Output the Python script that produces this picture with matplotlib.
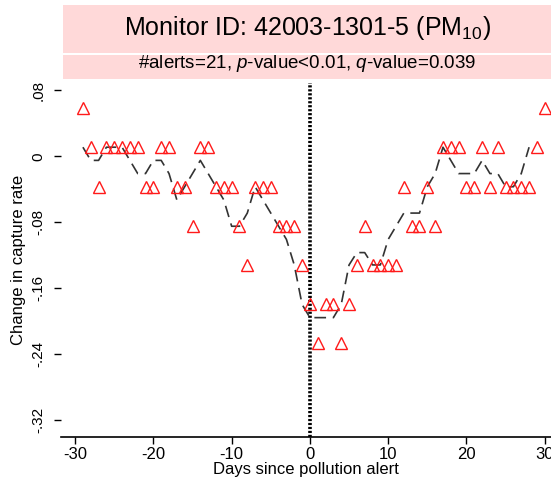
import numpy as np
import matplotlib
matplotlib.use("Agg")
import matplotlib.pyplot as plt
from matplotlib.patches import Rectangle

plt.rcParams['font.family'] = ['Liberation Sans', 'DejaVu Sans']
plt.rcParams['mathtext.fontset'] = 'custom'
plt.rcParams['mathtext.rm'] = 'Liberation Sans'
plt.rcParams['mathtext.it'] = 'Liberation Sans:italic'

# days relative to the alert
days = list(range(-29, 31))

# change in capture rate on each day (triangles)
change = [0.059, 0.011, -0.037, 0.011, 0.011, 0.011, 0.011, 0.011, -0.037, -0.037,
          0.011, 0.011, -0.037, -0.037, -0.085, 0.011, 0.011, -0.037, -0.037, -0.037,
          -0.085, -0.132, -0.037, -0.037, -0.037, -0.085, -0.085, -0.085, -0.132, -0.180,
          -0.227, -0.180, -0.180, -0.227, -0.180, -0.132, -0.085, -0.132, -0.132, -0.132,
          -0.132, -0.037, -0.085, -0.085, -0.037, -0.085, 0.011, 0.011, 0.011, -0.037,
          -0.037, 0.011, -0.037, 0.011, -0.037, -0.037, -0.037, -0.037, 0.011, 0.059]

# smoothed series (dashed line)
smooth_days = list(range(-29, 29))
smooth = [0.011, -0.005, -0.005, 0.011, 0.011, 0.011, -0.005, -0.021, -0.021, -0.005,
          -0.005, -0.021, -0.053, -0.037, -0.021, -0.005, -0.021, -0.037, -0.053, -0.085,
          -0.085, -0.069, -0.037, -0.053, -0.069, -0.085, -0.101, -0.132, -0.180, -0.196,
          -0.196, -0.196, -0.196, -0.180, -0.132, -0.117, -0.117, -0.132, -0.132, -0.101,
          -0.085, -0.069, -0.069, -0.069, -0.037, -0.021, 0.011, -0.005, -0.021, -0.021,
          -0.021, -0.005, -0.021, -0.021, -0.037, -0.037, -0.021, 0.011]

yticks = [0.08, 0, -0.08, -0.16, -0.24, -0.32]
ytick_labels = ['.08', '0', '-.08', '-.16', '-.24', '-.32']
xticks = [-30, -20, -10, 0, 10, 20, 30]

W, H = 551, 480
fig = plt.figure(figsize=(W / 100, H / 100), dpi=100)
ax = fig.add_axes([61 / W, 43 / H, 1 - 61 / W, (437 - 83) / H])

ax.axvline(0, color='black', lw=2.6, linestyle=(0, (0.6, 0.5)), zorder=1)
ax.plot(smooth_days, smooth, color='#333333', lw=1.2, linestyle=(0, (7, 4)), zorder=2)
ax.plot(days, change, linestyle='none', marker='^', markersize=8,
        markerfacecolor='none', markeredgecolor='#ff1a1a', markeredgewidth=1.0, zorder=3)

ax.set_xlim(-31.8, 30.8)
ax.set_ylim(-0.341, 0.089)
ax.set_xticks(xticks)
ax.set_xticklabels([str(t) for t in xticks], fontsize=12)
ax.set_yticks(yticks)
ax.set_yticklabels(ytick_labels, fontsize=11, rotation=90, va='center')
ax.tick_params(axis='both', length=5, width=1, color='black')
ax.tick_params(axis='x', pad=2)
ax.tick_params(axis='y', pad=6)
for s in ['top', 'right', 'left']:
    ax.spines[s].set_visible(False)
ax.spines['bottom'].set_linewidth(1.2)
ax.set_xlabel('Days since pollution alert', fontsize=12, labelpad=0)
ax.set_ylabel('Change in capture rate', fontsize=12, labelpad=4)

# header boxes
x0 = 63 / W
fig.patches.append(Rectangle((x0, 1 - 53 / H), 1 - x0, 48 / H, transform=fig.transFigure,
                             facecolor='#ffd9d9', edgecolor='none', zorder=0))
fig.patches.append(Rectangle((x0, 1 - 79 / H), 1 - x0, 24 / H, transform=fig.transFigure,
                             facecolor='#ffd9d9', edgecolor='none', zorder=0))
xc = (63 + 551) / 2 / W
fig.text(xc, 1 - 28 / H, 'Monitor ID: 42003-1301-5 (PM$_{10}$)', fontsize=18,
         ha='center', va='center')
fig.text(xc, 1 - 64 / H, '#alerts=21, $p$-value<0.01, $q$-value=0.039', fontsize=13.5,
         ha='center', va='center')

fig.savefig('out.png', dpi=100)
